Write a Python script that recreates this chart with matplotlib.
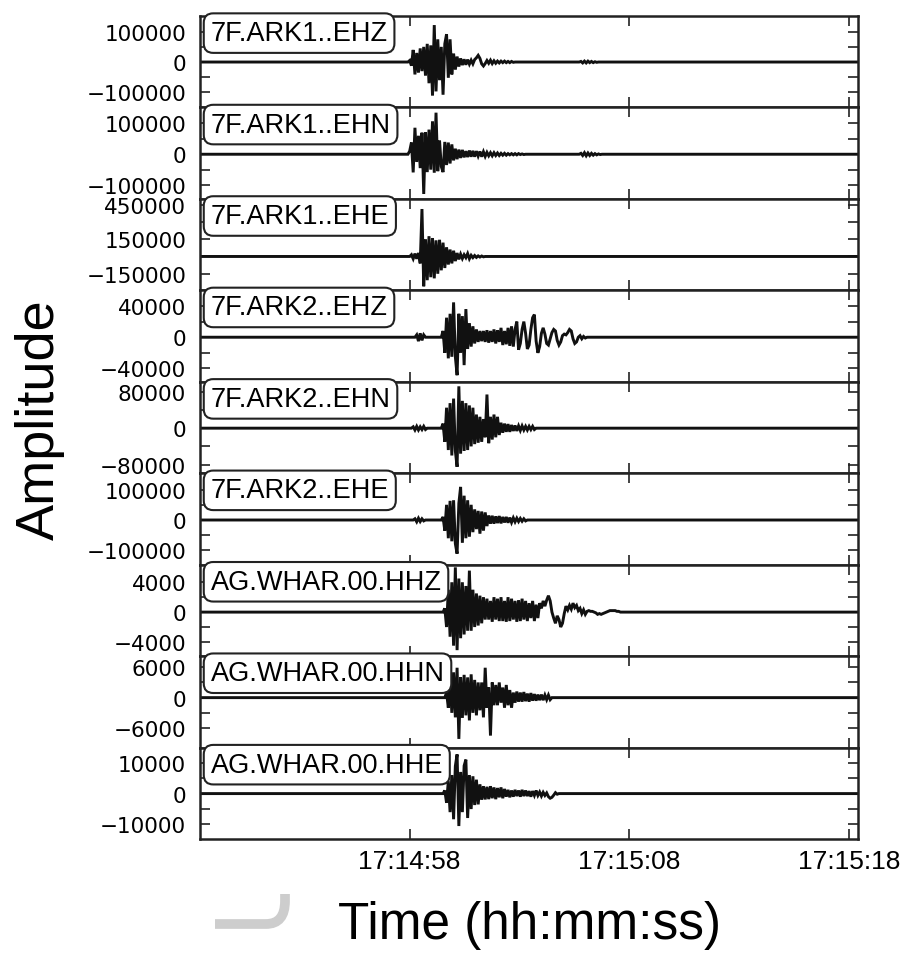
import datetime as dt

import matplotlib
matplotlib.use("Agg")
import matplotlib.pyplot as plt
import matplotlib.dates as mdates
from matplotlib.path import Path
from matplotlib.patches import PathPatch

plt.rcParams['font.family'] = ['Liberation Sans', 'DejaVu Sans']

# channel names, top to bottom
channels = ["7F.ARK1..EHZ", "7F.ARK1..EHN", "7F.ARK1..EHE",
            "7F.ARK2..EHZ", "7F.ARK2..EHN", "7F.ARK2..EHE",
            "AG.WHAR.00.HHZ", "AG.WHAR.00.HHN", "AG.WHAR.00.HHE"]

# every trace is stored as segments: onset (s after 17:14:58) and amplitudes
# in thousands of counts, one sample every 0.08 s; the trace is flat outside them
SAMPLE_STEP = 0.08

ark1_ehz_onset = 0.0
ark1_ehz = [5, -12, 40, -41, 30, -35, 45, -30, 50, -45,
            60, -70, 55, -111, 122, -97, 75, -60, 50, -108,
            60, 92, -52, 75, -41, 28, -25, 18, -15, 12,
            -10, 9, -9, 8, -7, 6, -6, 8, 14, 22,
            12, -6, -13, -5, 5, -4, 6, -5, 4, -4,
            3, -3, 3, -2, 3, -2, 2, -2, 2, -1]
ark1_ehz_late_onset = 7.8
ark1_ehz_late = [2, -3, 3, -3, 3, -2, 2, -2, 1, -1]

ark1_ehn_onset = 0.0
ark1_ehn = [10, 38, -59, 86, -25, 60, -45, 70, -129, 72,
            -58, 80, -50, 107, -60, 135, -55, 45, -40, -58,
            40, -35, 38, -30, 32, -20, 18, -16, 15, -12,
            14, -10, 10, -9, 12, -8, 11, -8, 10, -6,
            9, -8, 8, -7, 6, -5, 5, -5, 5, -4,
            4, -4, 3, -3, 3, -3, 2, -2, 2, -2,
            2, -2, 2, -1, 1, -1]
ark1_ehn_late_onset = 7.8
ark1_ehn_late = [3, -4, 5, -5, 4, -4, 3, -3, 2, -2, 1, -1]

ark1_ehe_onset = 0.08
ark1_ehe = [15, -20, 25, -20, 30, -60, 412, -259, 150, -206,
            176, -180, 160, -190, 140, -150, 145, -120, 120, -100,
            80, -70, 60, -60, 50, -40, 30, -25, 20, -18,
            15, -10, 25, -20, 10, -10, 8, -8, 5, -5, 4, -3]

ark2_ehz_pre_onset = 0.32
ark2_ehz_pre = [3, -5, 5, -4, 3]
ark2_ehz_onset = 1.52
ark2_ehz = [8, -20, 25, -27, 30, -25, 44.6, -25, -48.6, 30,
            -20, 27, -35.7, 36, -15, 18, -12, 14, -8, 10,
            -6, 8, -5, 8, -6, 9, -7, 8, -6, 10,
            -8, 9, -6, 12, -10, 8, -9, 12, -11, 14,
            -12, 10, 20, -16, -8, 10, 20, 5, -15, -10,
            10, 25, 29, -5, -20, -12, 5, 12, 4, -8,
            -10, -2, 6, 10, 8, -4, -10, -6, 2, 4,
            3, 6, 10, 8, -2, -8, -6, 0, 2, -2, 1, -1]

ark2_ehn_pre_onset = 0.16
ark2_ehn_pre = [3, -4, 4, -4, 3, -3, 4, -3]
ark2_ehn_onset = 1.52
ark2_ehn = [10, -30, 45, -48, 55, -60, 65, -50, -85, 92,
            -56, 60, -50, 55, -48, 50, -40, 45, -35, 30,
            -32, 25, -30, 20, -20, 74, -33, 25, -25, 30,
            -20, 25, -15, 12, -10, 10, -8, 9, -8, 7,
            -6, 6, -6, 5, -5, 5, -4, 4, -4, 4, -3, 4, -3]

ark2_ehe_pre_onset = 0.24
ark2_ehe_pre = [4, -6, 6, -5, 4, -3]
ark2_ehe_onset = 1.52
ark2_ehe = [10, -35, 50, -60, 63, -70, 65, -78, -111, 55,
            109, -75, 80, -60, 65, -55, 50, -40, 35, -30,
            30, -45, 28, -35, 25, -20, 15, -12, 14, -12,
            12, -10, 13, -11, 10, -8, 10, -9, 8, -8,
            7, -6, 6, -5, 5, -4, 4, -3]

whar_hhz_onset = 1.60
whar_hhz = [0.5, -2, 3, -3.3, 4, -4.5, 6.0, -5.1, 4.5, -3.5,
            4, -3, 3.5, -2.5, 5.56, -2.5, 3, -2, 2.5, -1.8,
            2.2, -1.5, 2, -1, 1.8, -1, 1.5, -1.3, 2, -1,
            1.8, -1.2, 2.0, -1.2, 1.5, -1.3, 2, -1.2, 1.8, -1.0,
            1.5, -1.3, 1.6, -1.2, 1.8, -1.0, 1.5, -1.2, 1.2, -0.8,
            1.5, -1.2, 1.0, -0.8, 1.2, 0.5, 1.5, 0.8, 1.6, 2.2,
            1.5, 0.0, -0.8, -1.5, -0.5, -1.0, -2.0, -1.5, -0.2, 0.8,
            0.3, 0.9, 0.4, 1.2, 0.6, 0.9, 0.2, 0.5, -0.2, 0.3,
            -0.3, 0.1, 0.2, 0.1, 0.1, 0.0, -0.1, -0.3, -0.2, -0.3,
            -0.2, -0.1, 0.0, 0.1, 0.2, 0.2, 0.2, 0.2, 0.1, 0.1, 0.0]

whar_hhn_onset = 1.68
whar_hhn = [1, -2, 4, -3, 5, -3.9, 5.9, -8.15, 4, -4,
            4.5, -3.5, 4, -4.5, 4.6, -3, 3.5, -3.5, 3, -2.5,
            3, -3.9, 5.9, -2, 2, -7.5, 3, -1.5, 2.5, -1.5,
            3, -1, 2, -2, 2.5, -1.5, 1.5, -2, 1, -1,
            1.2, -0.8, 1, -0.8, 1.1, -0.7, 0.8, -0.8, 0.9, -0.6,
            0.7, -0.6, 0.6, -0.5, 0.6, -0.5, 0.5, -0.4, 0.5, -0.4]

whar_hhe_onset = 1.60
whar_hhe = [1, -3, 4, -6, 6, -8.3, 8.9, 12.7, -10.5, 7,
            -6, 9, 11, -7.9, 6, -5, 5.6, -3.7, 4.5, -3.5,
            3, -2, 2.4, -1.9, 2.2, -1.8, 2.4, -1.5, 2, -1.8,
            1.8, -1.2, 2.0, -1.5, 1.5, -1.0, 1.2, -1.2, 1.0, -1,
            1.2, -0.8, 1.0, -1.0, 1.2, -0.8, 1.0, -0.8, 0.8, -1.0,
            0.8, -0.6, 1.0, -0.6, 0.5, -0.8, 0.4, -0.6, 0.2, -1.0,
            -1.5, -1.2, -0.5, 0.3, -0.2]

segments = [
    [(ark1_ehz_onset, ark1_ehz), (ark1_ehz_late_onset, ark1_ehz_late)],
    [(ark1_ehn_onset, ark1_ehn), (ark1_ehn_late_onset, ark1_ehn_late)],
    [(ark1_ehe_onset, ark1_ehe)],
    [(ark2_ehz_pre_onset, ark2_ehz_pre), (ark2_ehz_onset, ark2_ehz)],
    [(ark2_ehn_pre_onset, ark2_ehn_pre), (ark2_ehn_onset, ark2_ehn)],
    [(ark2_ehe_pre_onset, ark2_ehe_pre), (ark2_ehe_onset, ark2_ehe)],
    [(whar_hhz_onset, whar_hhz)],
    [(whar_hhn_onset, whar_hhn)],
    [(whar_hhe_onset, whar_hhe)],
]

# y limits, ticks and which ticks carry a label
y_limits = [(-150000, 152000), (-145000, 152000), (-294000, 500000),
            (-57000, 60000), (-99000, 102000), (-147000, 154000),
            (-5900, 6360), (-9860, 8200), (-14700, 14900)]
y_ticks = [[-100000, -50000, 0, 50000, 100000],
           [-100000, -50000, 0, 50000, 100000],
           [-150000, 0, 150000, 300000, 450000],
           [-40000, -20000, 0, 20000, 40000],
           [-80000, -40000, 0, 40000, 80000],
           [-100000, -50000, 0, 50000, 100000],
           [-4000, -2000, 0, 2000, 4000],
           [-6000, -3000, 0, 3000, 6000],
           [-10000, -5000, 0, 5000, 10000]]
y_labeled = [[-100000, 0, 100000],
             [-100000, 0, 100000],
             [-150000, 150000, 450000],
             [-40000, 0, 40000],
             [-80000, 0, 80000],
             [-100000, 0, 100000],
             [-4000, 0, 4000],
             [-6000, 0, 6000],
             [-10000, 0, 10000]]

t_ref = dt.datetime(2015, 1, 1, 17, 14, 58)
x_start, x_end = -9.55, 20.42
x_tick_seconds = [0, 10, 20]


def at(seconds):
    return mdates.date2num(t_ref + dt.timedelta(seconds=seconds))


def build_trace(segs):
    times, values = [x_start], [0.0]
    for onset, amps in segs:
        times.append(onset - SAMPLE_STEP)
        values.append(0.0)
        for i, a in enumerate(amps):
            times.append(onset + i * SAMPLE_STEP)
            values.append(a * 1000.0)
        times.append(onset + len(amps) * SAMPLE_STEP)
        values.append(0.0)
    times.append(x_end)
    values.append(0.0)
    return [at(t) for t in times], values


def fmt(v):
    return str(v).replace('-', '\u2212')


fig, axes = plt.subplots(9, 1, sharex=True, figsize=(9.06, 9.54), dpi=100,
                         gridspec_kw=dict(hspace=0))
fig.subplots_adjust(left=200 / 906, right=858 / 906, top=1 - 17 / 954, bottom=1 - 840 / 954)

for i, ax in enumerate(axes):
    xs, ys = build_trace(segments[i])
    ax.plot(xs, ys, color='#111111', lw=2.1, solid_joinstyle='miter')
    ax.set_ylim(*y_limits[i])
    ax.set_yticks(y_ticks[i])
    ax.set_yticklabels([fmt(v) if v in y_labeled[i] else '' for v in y_ticks[i]],
                       fontsize=15.5, family='DejaVu Sans')
    ax.tick_params(axis='both', direction='in', top=True, right=True,
                   length=7, width=1.2, color='#222222')
    ax.tick_params(axis='y', pad=10)
    for s in ax.spines.values():
        s.set_linewidth(1.8)
        s.set_color('#222222')
    ax.text(0.016, 0.955, channels[i], transform=ax.transAxes, ha='left', va='top',
            fontsize=19.5, zorder=6, clip_on=False,
            bbox=dict(boxstyle='round,pad=0.25,rounding_size=0.35', fc='white',
                      ec='#222222', lw=1.5))

axes[-1].set_xlim(at(x_start), at(x_end))
axes[-1].set_xticks([at(s) for s in x_tick_seconds])
axes[-1].xaxis.set_major_formatter(mdates.DateFormatter('%H:%M:%S'))
for lab in axes[-1].get_xticklabels():
    lab.set_fontsize(19)
axes[-1].tick_params(axis='x', pad=7)

fig.text(40 / 906, 1 - 420 / 954, 'Amplitude', rotation=90, ha='center', va='center',
         fontsize=39)
fig.text(530 / 906, 1 - 926 / 954, 'Time (hh:mm:ss)', ha='center', va='center',
         fontsize=37)

# light grey hook left of the x label
hook = Path([(215 / 906, 1 - 925 / 954), (266 / 906, 1 - 925 / 954),
             (285 / 906, 1 - 925 / 954), (285 / 906, 1 - 902 / 954),
             (285 / 906, 1 - 895 / 954)],
            [Path.MOVETO, Path.LINETO, Path.CURVE3, Path.CURVE3, Path.LINETO])
fig.add_artist(PathPatch(hook, transform=fig.transFigure, fc='none', ec='#cdcdcd',
                         lw=7, capstyle='butt'))

fig.savefig('out.png', dpi=100)
